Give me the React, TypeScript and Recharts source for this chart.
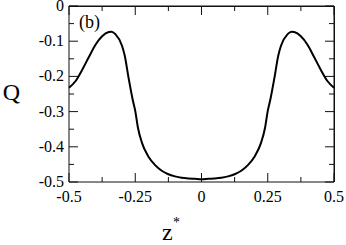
import { LineChart, Line, XAxis, YAxis, ReferenceLine } from 'recharts'

// z* positions and Q values
const zValues = [
  -0.5, -0.475, -0.45, -0.425, -0.4, -0.375, -0.35, -0.34, -0.325, -0.3, -0.29, -0.275, -0.26,
  -0.25, -0.24, -0.225, -0.2, -0.175, -0.15, -0.125, -0.1, -0.075, -0.05, -0.025, 0,
  0.025, 0.05, 0.075, 0.1, 0.125, 0.15, 0.175, 0.2, 0.225, 0.24, 0.25, 0.26, 0.275, 0.29,
  0.3, 0.325, 0.34, 0.35, 0.375, 0.4, 0.425, 0.45, 0.475, 0.5,
]
const qValues = [
  -0.232, -0.213, -0.181, -0.145, -0.11, -0.086, -0.074, -0.073, -0.08, -0.113, -0.14, -0.205, -0.265,
  -0.298, -0.345, -0.388, -0.428, -0.452, -0.468, -0.478, -0.484, -0.488, -0.49, -0.491, -0.492,
  -0.491, -0.49, -0.488, -0.484, -0.478, -0.468, -0.452, -0.428, -0.388, -0.345, -0.298, -0.265, -0.205, -0.14,
  -0.113, -0.08, -0.073, -0.074, -0.086, -0.11, -0.145, -0.181, -0.213, -0.232,
]

const xMajorTicks = [-0.5, -0.25, 0, 0.25, 0.5]
const xMinorTicks = [-0.375, -0.125, 0.125, 0.375]
const xTickLabels = ['-0.5', '-0.25', '0', '0.25', '0.5']
const yMajorTicks = [0, -0.1, -0.2, -0.3, -0.4, -0.5]
const yMinorTicks = [-0.05, -0.15, -0.25, -0.35, -0.45]
const yTickLabels = ['0', '-0.1', '-0.2', '-0.3', '-0.4', '-0.5']

const data = zValues.map((z, i) => ({ z, q: qValues[i] }))
const xTicks = [...xMajorTicks, ...xMinorTicks]
const yTicks = [...yMajorTicks, ...yMinorTicks]

const FONT = 'Liberation Serif'
const INK = '#111'
const X_MIN = -0.5
const X_MAX = 0.5
const Y_MIN = -0.5
const Y_MAX = 0
// plot box: 265px wide, 176px tall, top-left at (69, 6)
const X_SPAN_PX = 265
const Y_SPAN_PX = 176
const MAJOR_PX = 9
const MINOR_PX = 5

function BottomTick({ x, y, payload }: any) {
  const v = payload.value
  const idx = xMajorTicks.indexOf(v)
  const len = idx >= 0 ? MAJOR_PX : MINOR_PX
  return (
    <g>
      <line x1={x} x2={x} y1={y} y2={y - len} stroke={INK} />
      {idx >= 0 && (
        <text x={x} y={y + 20} textAnchor="middle" fontFamily={FONT} fontSize={16} fill="#000">
          {xTickLabels[idx]}
        </text>
      )}
    </g>
  )
}

function LeftTick({ x, y, payload }: any) {
  const v = payload.value
  const idx = yMajorTicks.indexOf(v)
  const len = idx >= 0 ? MAJOR_PX : MINOR_PX
  return (
    <g>
      <line x1={x} x2={x + len} y1={y} y2={y} stroke={INK} />
      {idx >= 0 && (
        <text x={x - 5} y={y + 5} textAnchor="end" fontFamily={FONT} fontSize={16} fill="#000">
          {yTickLabels[idx]}
        </text>
      )}
    </g>
  )
}

// inward ticks on the top and right sides of the frame
function topTicks(values: number[], px: number) {
  const dy = (px / Y_SPAN_PX) * (Y_MAX - Y_MIN)
  return values.map((v) => (
    <ReferenceLine key={`t${v}`} segment={[{ x: v, y: Y_MAX }, { x: v, y: Y_MAX - dy }]} stroke={INK} ifOverflow="visible" />
  ))
}

function rightTicks(values: number[], px: number) {
  const dx = (px / X_SPAN_PX) * (X_MAX - X_MIN)
  return values.map((v) => (
    <ReferenceLine key={`r${v}`} segment={[{ x: X_MAX, y: v }, { x: X_MAX - dx, y: v }]} stroke={INK} ifOverflow="visible" />
  ))
}

export default function App() {
  return (
    <div style={{ position: 'absolute', left: 0, top: 0, width: 346, height: 245 }}>
      <LineChart width={346} height={245} data={data} margin={{ top: 6, right: 12, bottom: 0, left: 0 }}>
        <XAxis
          dataKey="z"
          type="number"
          domain={[X_MIN, X_MAX]}
          ticks={xTicks}
          interval={0}
          height={63}
          tickSize={0}
          tickMargin={0}
          axisLine={{ stroke: INK }}
          tick={<BottomTick />}
        />
        <YAxis
          type="number"
          domain={[Y_MIN, Y_MAX]}
          ticks={yTicks}
          interval={0}
          width={69}
          tickSize={0}
          tickMargin={0}
          axisLine={{ stroke: INK }}
          tick={<LeftTick />}
        />
        <ReferenceLine y={Y_MAX} stroke={INK} ifOverflow="visible" />
        <ReferenceLine x={X_MAX} stroke={INK} ifOverflow="visible" />
        {topTicks(xMajorTicks, MAJOR_PX)}
        {topTicks(xMinorTicks, MINOR_PX)}
        {rightTicks(yMajorTicks, MAJOR_PX)}
        {rightTicks(yMinorTicks, MINOR_PX)}
        <Line type="monotone" dataKey="q" stroke="#000" strokeWidth={2} dot={false} isAnimationActive={false} />
      </LineChart>
      <div
        style={{
          position: 'absolute', left: 69, top: 6, width: 266, height: 176, boxSizing: 'border-box',
          borderTop: `1px solid ${INK}`, borderRight: `1px solid ${INK}`, pointerEvents: 'none',
        }}
      />
      <div style={{ position: 'absolute', left: 79, top: 12, fontFamily: FONT, fontSize: 18, lineHeight: '20px' }}>(b)</div>
      <div style={{ position: 'absolute', left: 0, top: 78, width: 23, textAlign: 'center', fontFamily: FONT, fontSize: 24, lineHeight: '28px' }}>Q</div>
      <div style={{ position: 'absolute', left: 162, top: 220, fontFamily: FONT, fontSize: 24, lineHeight: '24px' }}>
        z<span style={{ position: 'absolute', left: 11, top: -9, fontSize: 14 }}>*</span>
      </div>
    </div>
  )
}
